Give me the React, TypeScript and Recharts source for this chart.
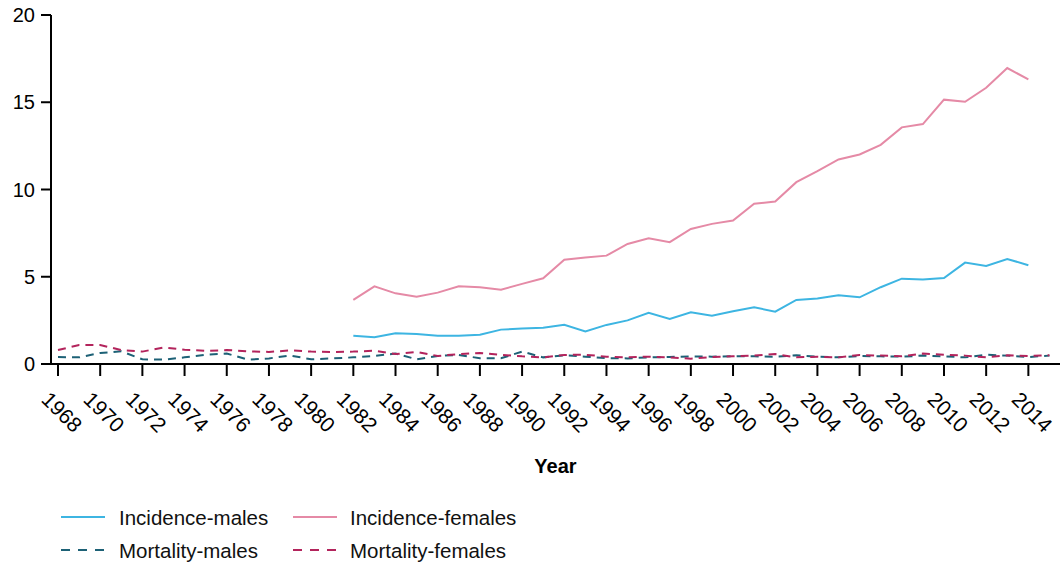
import React from "react";
import { LineChart, Line, XAxis, YAxis, Label } from "recharts";

const YEARS = [
  1968, 1969, 1970, 1971, 1972, 1973, 1974, 1975, 1976, 1977, 1978, 1979,
  1980, 1981, 1982, 1983, 1984, 1985, 1986, 1987, 1988, 1989, 1990, 1991,
  1992, 1993, 1994, 1995, 1996, 1997, 1998, 1999, 2000, 2001, 2002, 2003,
  2004, 2005, 2006, 2007, 2008, 2009, 2010, 2011, 2012, 2013, 2014, 2015,
];

// incidence only reported 1982-2014
const INCIDENCE_START = 1982;
const INCIDENCE_MALES = [
  1.62, 1.53, 1.76, 1.72, 1.62, 1.62, 1.68, 1.97, 2.03, 2.08, 2.25, 1.87,
  2.24, 2.5, 2.93, 2.58, 2.96, 2.77, 3.02, 3.25, 3.0, 3.67, 3.76, 3.94,
  3.82, 4.4, 4.89, 4.84, 4.93, 5.81, 5.62, 6.02, 5.66,
];
const INCIDENCE_FEMALES = [
  3.67, 4.45, 4.05, 3.86, 4.09, 4.45, 4.4, 4.26, 4.59, 4.91, 5.97, 6.1,
  6.21, 6.88, 7.21, 6.98, 7.74, 8.03, 8.22, 9.18, 9.31, 10.42, 11.05, 11.72,
  12.01, 12.56, 13.56, 13.75, 15.15, 15.03, 15.83, 16.96, 16.31,
];
const MORTALITY_MALES = [
  0.4, 0.38, 0.63, 0.73, 0.27, 0.25, 0.38, 0.53, 0.6, 0.25, 0.32, 0.49,
  0.27, 0.32, 0.38, 0.46, 0.6, 0.27, 0.46, 0.52, 0.33, 0.33, 0.71, 0.38,
  0.5, 0.42, 0.34, 0.32, 0.38, 0.4, 0.44, 0.42, 0.44, 0.44, 0.42, 0.5,
  0.42, 0.38, 0.46, 0.44, 0.42, 0.48, 0.44, 0.38, 0.53, 0.48, 0.4, 0.48,
];
const MORTALITY_FEMALES = [
  0.8, 1.09, 1.09, 0.8, 0.71, 0.95, 0.82, 0.75, 0.8, 0.73, 0.69, 0.78,
  0.71, 0.69, 0.71, 0.76, 0.57, 0.69, 0.46, 0.57, 0.63, 0.53, 0.44, 0.38,
  0.52, 0.53, 0.42, 0.38, 0.42, 0.38, 0.3, 0.4, 0.44, 0.48, 0.57, 0.38,
  0.42, 0.38, 0.52, 0.48, 0.44, 0.6, 0.53, 0.48, 0.38, 0.5, 0.46, 0.5,
];

const X_TICKS = [
  1968, 1970, 1972, 1974, 1976, 1978, 1980, 1982, 1984, 1986, 1988, 1990,
  1992, 1994, 1996, 1998, 2000, 2002, 2004, 2006, 2008, 2010, 2012, 2014,
];
const Y_TICKS = [0, 5, 10, 15, 20];

const SERIES = [
  { key: "incM", name: "Incidence-males", color: "#3db5e2", dash: undefined },
  { key: "incF", name: "Incidence-females", color: "#e58aa6", dash: undefined },
  { key: "mortM", name: "Mortality-males", color: "#1d6176", dash: "8 6" },
  { key: "mortF", name: "Mortality-females", color: "#b3245c", dash: "8 6" },
];

const FONT = "'Liberation Sans', Arial, sans-serif";

const data = YEARS.map((year, i) => {
  const j = year - INCIDENCE_START;
  const inRange = j >= 0 && j < INCIDENCE_MALES.length;
  return {
    year,
    incM: inRange ? INCIDENCE_MALES[j] : null,
    incF: inRange ? INCIDENCE_FEMALES[j] : null,
    mortM: MORTALITY_MALES[i],
    mortF: MORTALITY_FEMALES[i],
  };
});

const YearTick = (props: any) => {
  const { x, y, payload } = props;
  const cx = x + 4;
  const cy = y + 34;
  return (
    <text
      x={cx}
      y={cy}
      textAnchor="middle"
      dominantBaseline="central"
      transform={`rotate(45, ${cx}, ${cy})`}
      fontSize={21}
      fontFamily={FONT}
      fill="#000"
    >
      {payload.value}
    </text>
  );
};

function LegendBlock() {
  const cols = [
    { lineX: 61, textX: 119 },
    { lineX: 293, textX: 350 },
  ];
  const rows = [517, 550];
  return (
    <svg width={1060} height={80} style={{ position: "absolute", left: 0, top: 490 }}>
      {SERIES.map((s, i) => {
        const c = cols[i % 2];
        const cy = rows[Math.floor(i / 2)] - 490;
        return (
          <g key={s.key}>
            <line
              x1={c.lineX}
              x2={c.lineX + 44}
              y1={cy}
              y2={cy}
              stroke={s.color}
              strokeWidth={2}
              strokeDasharray={s.dash ? "9 8" : undefined}
            />
            <text
              x={c.textX}
              y={cy}
              dominantBaseline="central"
              fontSize={20.5}
              fontFamily={FONT}
              fill="#111"
            >
              {s.name}
            </text>
          </g>
        );
      })}
    </svg>
  );
}

export default function App() {
  return (
    <div style={{ position: "absolute", left: 0, top: 0, width: 1060, height: 564, background: "#fff" }}>
      <LineChart
        width={1060}
        height={480}
        data={data}
        margin={{ top: 15, right: 0, bottom: 0, left: 0 }}
      >
        <XAxis
          dataKey="year"
          type="number"
          domain={[1968, 2015.5]}
          ticks={X_TICKS}
          interval={0}
          padding={{ left: 7, right: 0 }}
          height={116}
          tickSize={12}
          tick={<YearTick />}
          axisLine={{ stroke: "#000", strokeWidth: 2 }}
          tickLine={{ stroke: "#000", strokeWidth: 2 }}
        >
          <Label
            value="Year"
            position="insideBottom"
            offset={7}
            style={{ fontSize: 20, fontWeight: 700, fontFamily: FONT, fill: "#000" }}
          />
        </XAxis>
        <YAxis
          domain={[0, 20]}
          ticks={Y_TICKS}
          width={51}
          tickSize={10}
          tickMargin={6}
          tick={{ fontSize: 20, fontFamily: FONT, fill: "#000" }}
          axisLine={{ stroke: "#000", strokeWidth: 2 }}
          tickLine={{ stroke: "#000", strokeWidth: 2 }}
        />
        {SERIES.map((s) => (
          <Line
            key={s.key}
            dataKey={s.key}
            name={s.name}
            type="linear"
            stroke={s.color}
            strokeWidth={2}
            strokeDasharray={s.dash}
            dot={false}
            activeDot={false}
            connectNulls={false}
            isAnimationActive={false}
          />
        ))}
      </LineChart>
      <LegendBlock />
    </div>
  );
}
